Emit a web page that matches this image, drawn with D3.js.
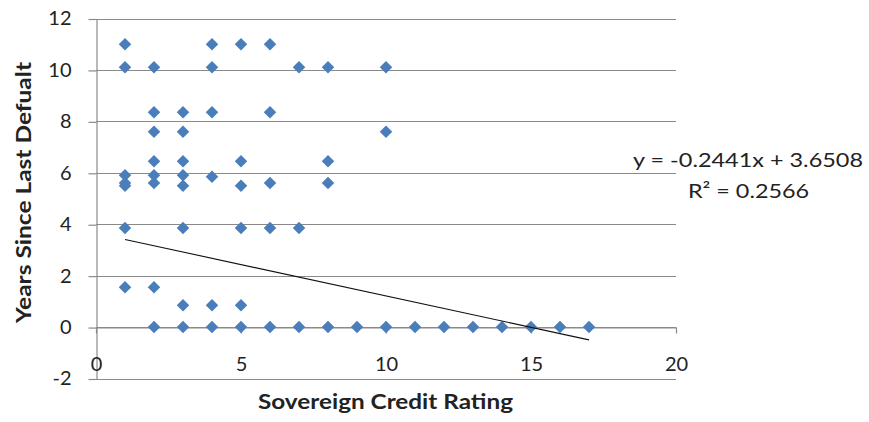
<!DOCTYPE html>
<html>
<head>
<meta charset="utf-8">
<script src="https://cdn.jsdelivr.net/npm/d3@7"></script>
<style>
    body { margin: 0; background: #fff; }
    svg { display: block; font-family: Lato, "Liberation Sans", sans-serif; }
</style>
</head>
<body>
<svg id="chart" width="869" height="422"></svg>
<script>
// credit rating (x) and years since last default (y)
var rating = [
    1, 1, 1, 1, 1, 1, 1,
    2, 2, 2, 2, 2, 2, 2, 2,
    3, 3, 3, 3, 3, 3, 3, 3,
    4, 4, 4, 4, 4, 4,
    5, 5, 5, 5, 5, 5,
    6, 6, 6, 6, 6,
    7, 7, 7,
    8, 8, 8, 8,
    9,
    10, 10, 10,
    11, 12, 13, 14, 15, 16, 17
];
var yearsSince = [
    11, 10.1, 5.9, 5.6, 5.5, 3.85, 1.55,
    10.1, 8.35, 7.6, 6.45, 5.9, 5.6, 1.55, 0,
    8.35, 7.6, 6.45, 5.9, 5.5, 3.85, 0.85, 0,
    11, 10.1, 8.35, 5.85, 0.85, 0,
    11, 6.45, 5.5, 3.85, 0.85, 0,
    11, 8.35, 5.6, 3.85, 0,
    10.1, 3.85, 0,
    10.1, 6.45, 5.6, 0,
    0,
    10.1, 7.6, 0,
    0, 0, 0, 0, 0, 0, 0
];

var xTicks = [0, 5, 10, 15, 20];
var yTicks = [-2, 0, 2, 4, 6, 8, 10, 12];

// linear trendline as printed on the chart
var trendSlope = -0.2441;
var trendIntercept = 3.6508;
var trendRange = [1, 17];
var trendLabels = ['y = -0.2441x + 3.6508', 'R\u00b2 = 0.2566'];

const svg = d3.select('#chart');

const xScale = d3.scaleLinear().domain([0, 20]).range([96, 676]);
const yScale = d3.scaleLinear().domain([-2, 12]).range([378.5, 18.5]);

// horizontal gridlines
svg.append('g')
    .selectAll('line')
    .data(yTicks)
    .enter().append('line')
    .attr('x1', xScale(0))
    .attr('x2', xScale(20))
    .attr('y1', function (d) { return Math.round(yScale(d)) + 0.5; })
    .attr('y2', function (d) { return Math.round(yScale(d)) + 0.5; })
    .attr('stroke', '#8a8a8a')
    .attr('stroke-width', 1.2);

// y axis
const yAxis = svg.append('g')
    .attr('transform', 'translate(' + (xScale(0) + 0.5) + ',0)')
    .call(d3.axisLeft(yScale).tickValues(yTicks).tickFormat(String)
        .tickSize(8).tickSizeOuter(0).tickPadding(17));
yAxis.select('.domain').attr('stroke', '#8a8a8a').attr('stroke-width', 1.2);
yAxis.selectAll('line').attr('stroke', '#8a8a8a').attr('stroke-width', 1.2)
    .attr('transform', 'translate(0,0.5)');
yAxis.selectAll('text').attr('font-size', 20).attr('fill', '#222')
    .attr('font-family', 'Lato, "Liberation Sans", sans-serif');

// x axis sits on y = 0
const xAxis = svg.append('g')
    .attr('transform', 'translate(0,' + (Math.round(yScale(0)) + 0.5) + ')')
    .call(d3.axisBottom(xScale).tickValues(xTicks).tickFormat(String)
        .tickSize(6).tickSizeOuter(0).tickPadding(23));
xAxis.select('.domain').attr('stroke', '#8a8a8a').attr('stroke-width', 1.2);
xAxis.selectAll('line').attr('stroke', '#8a8a8a').attr('stroke-width', 1.2);
xAxis.selectAll('text').attr('font-size', 20).attr('fill', '#222')
    .attr('font-family', 'Lato, "Liberation Sans", sans-serif');

// points
const diamond = d3.symbol().type(d3.symbolDiamond2).size(100);
svg.append('g')
    .selectAll('path')
    .data(rating)
    .enter().append('path')
    .attr('d', diamond)
    .attr('transform', function (d, i) {
        return 'translate(' + xScale(d) + ',' + yScale(yearsSince[i]) + ')';
    })
    .attr('fill', '#4a7ebb');

// trendline
svg.append('path')
    .datum(trendRange)
    .attr('d', d3.line()
        .x(function (d) { return xScale(d); })
        .y(function (d) { return yScale(trendSlope * d + trendIntercept); }))
    .attr('stroke', '#111')
    .attr('stroke-width', 1.1)
    .attr('fill', 'none');

// trendline equation
svg.append('text')
    .attr('x', 633).attr('y', 167)
    .attr('font-size', 20).attr('fill', '#222')
    .attr('textLength', 230).attr('lengthAdjust', 'spacingAndGlyphs')
    .text(trendLabels[0]);
svg.append('text')
    .attr('x', 688).attr('y', 198)
    .attr('font-size', 20).attr('fill', '#222')
    .attr('textLength', 121).attr('lengthAdjust', 'spacingAndGlyphs')
    .text(trendLabels[1]);

// axis titles
svg.append('text')
    .attr('transform', 'translate(31,192.5) rotate(-90)')
    .attr('text-anchor', 'middle')
    .attr('font-size', 21).attr('font-weight', 'bold').attr('fill', '#222')
    .attr('textLength', 261).attr('lengthAdjust', 'spacingAndGlyphs')
    .text('Years Since Last Defualt');

svg.append('text')
    .attr('x', 385.5).attr('y', 409)
    .attr('text-anchor', 'middle')
    .attr('font-size', 21).attr('font-weight', 'bold').attr('fill', '#222')
    .attr('textLength', 255).attr('lengthAdjust', 'spacingAndGlyphs')
    .text('Sovereign Credit Rating');
</script>
</body>
</html>
